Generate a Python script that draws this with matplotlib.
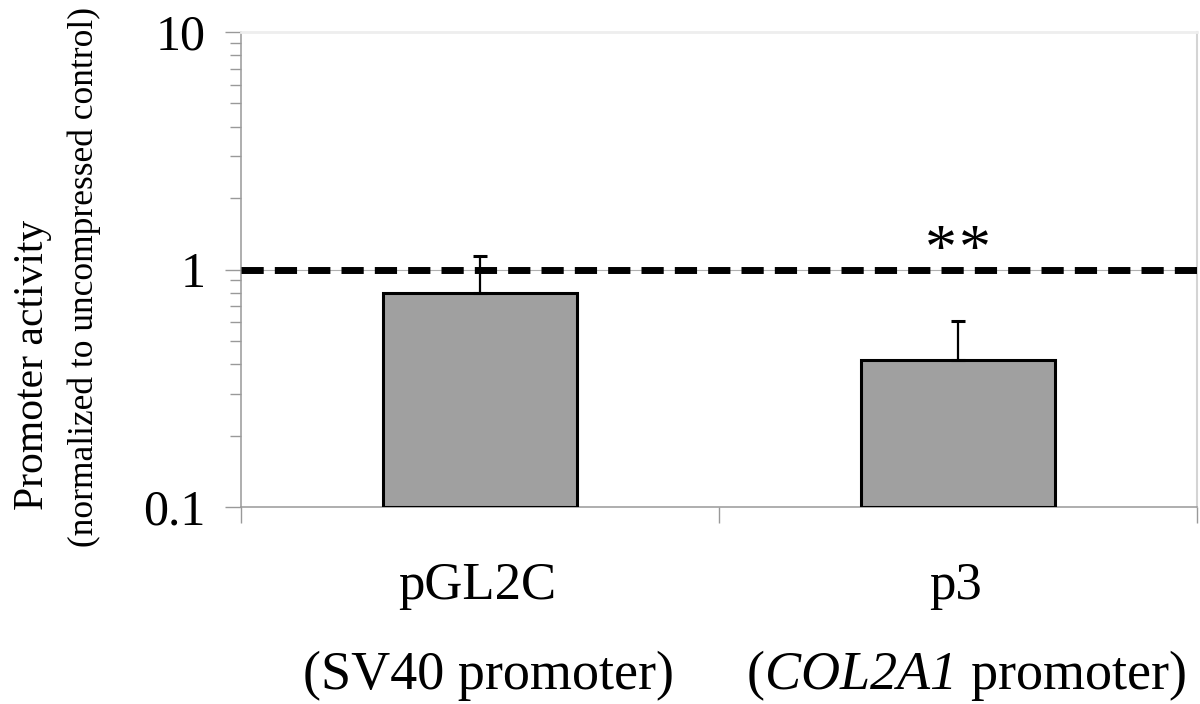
import matplotlib
matplotlib.use('Agg')
import matplotlib.pyplot as plt
from matplotlib.ticker import LogLocator, NullFormatter, FixedLocator, FixedFormatter

# data
constructs = ['pGL2C', 'p3']
promoters = ['(SV40 promoter)', r'($\mathsf{COL2A1}$ promoter)']
activity = [0.80, 0.415]
activity_err = [0.34, 0.19]
reference_level = 1.0
significance = ['', '**']

plt.rcParams['font.family'] = ['Liberation Serif', 'DejaVu Serif']
plt.rcParams['mathtext.fontset'] = 'custom'
plt.rcParams['mathtext.rm'] = 'Liberation Serif'
# sf slot used for italic so the digits in COL2A1 are slanted too
plt.rcParams['mathtext.sf'] = 'Liberation Serif:italic'

fig = plt.figure(figsize=(12, 7.04), dpi=100)
ax = fig.add_axes([241 / 1200, 1 - 507 / 704, (1197 - 241) / 1200, (507 - 32) / 704])

base = 0.1
x = list(range(len(constructs)))
heights = [v - base for v in activity]
ax.bar(x, heights, bottom=base, width=0.405, color='#a0a0a0',
       edgecolor='black', linewidth=2.2, zorder=3)
ax.errorbar(x, activity, yerr=[[0] * len(activity), activity_err], fmt='none',
            ecolor='black', elinewidth=1.6, capsize=5, capthick=2.2, zorder=4)

# reference line at 1 (uncompressed control)
ax.axhline(reference_level, color='#b0b0b0', lw=0.8, zorder=2)
ax.axhline(reference_level, color='black', lw=5, dashes=(3.2, 1.6), zorder=5)

ax.set_yscale('log')
ax.set_ylim(0.1, 10)
ax.set_xlim(-0.5, len(constructs) - 0.5)

ax.yaxis.set_major_locator(FixedLocator([0.1, 1, 10]))
ax.yaxis.set_major_formatter(FixedFormatter(['0.1', '1', '10']))
ax.yaxis.set_minor_locator(LogLocator(base=10, subs=range(2, 10)))
ax.yaxis.set_minor_formatter(NullFormatter())
ax.set_xticks([i - 0.5 for i in range(len(constructs) + 1)])
ax.set_xticklabels([])

ax.tick_params(axis='y', which='major', length=11.5, width=1, color='#999999',
               labelsize=36, pad=14)
ax.tick_params(axis='y', which='minor', length=8, width=1, color='#999999')
ax.tick_params(axis='x', which='major', length=11.5, width=1, color='#999999')

for side in ['left', 'bottom']:
    ax.spines[side].set_color('#999999')
    ax.spines[side].set_linewidth(1.1)
ax.spines['top'].set_color('#eeeeee')
ax.spines['top'].set_linewidth(2)
ax.spines['right'].set_color('#d4d4d4')
ax.spines['right'].set_linewidth(1.5)

# category labels, two lines each
for i in x:
    ax.annotate(constructs[i], xy=(i, 0), xycoords=('data', 'axes fraction'),
                xytext=(-2, -66), textcoords='offset points',
                ha='center', va='baseline', fontsize=38)
    ax.annotate(promoters[i], xy=(i, 0), xycoords=('data', 'axes fraction'),
                xytext=(6, -131), textcoords='offset points',
                ha='center', va='baseline', fontsize=39)
    # asterisks drawn one by one to keep the small gap between them
    stars = significance[i]
    for k, ch in enumerate(stars):
        dx = (k - (len(stars) - 1) / 2) * 25
        ax.annotate(ch, xy=(i, 1.17), xytext=(dx, 0), textcoords='offset points',
                    ha='center', va='center', fontsize=46)

fig.text(33 / 1200, 1 - 365 / 704, 'Promoter activity', rotation=90,
         ha='center', va='center', fontsize=30)
fig.text(84 / 1200, 1 - 277 / 704, '(normalized to uncompressed control)', rotation=90,
         ha='center', va='center', fontsize=25.5)

fig.savefig('out.png', dpi=100, facecolor='white')
